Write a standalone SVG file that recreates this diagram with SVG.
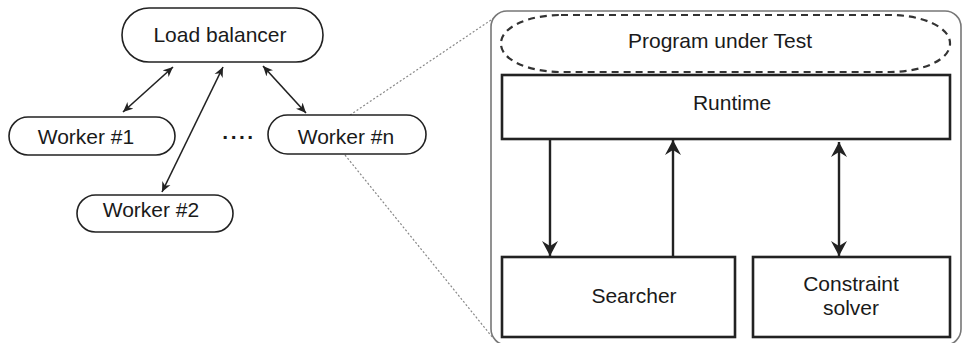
<svg xmlns="http://www.w3.org/2000/svg" width="962" height="343" viewBox="0 0 962 343">
<defs>
<style>
text{font-family:"Liberation Sans",Arial,sans-serif;font-size:21px;fill:#1a1a1a;text-anchor:middle}
.pill{fill:#fff;stroke:#222;stroke-width:1.6}
.box{fill:#fff;stroke:#222;stroke-width:2.6}
.thin{stroke:#222;stroke-width:1.6;fill:none}
.thick{stroke:#222;stroke-width:2.4;fill:none}
.dot{stroke:#888;stroke-width:1.2;stroke-dasharray:2 2;fill:none}
</style>
<marker id="sa" viewBox="-10 -5 10 10" refX="0" refY="0" markerWidth="10" markerHeight="10" markerUnits="userSpaceOnUse" orient="auto-start-reverse">
<path d="M0,0 L-10,-4.5 L-7,0 L-10,4.5 Z" fill="#222"/>
</marker>
<marker id="la" viewBox="-16 -8 16 16" refX="0" refY="0" markerWidth="16" markerHeight="16" markerUnits="userSpaceOnUse" orient="auto-start-reverse">
<path d="M0,0 L-15,-8 L-10,0 L-15,8 Z" fill="#222"/>
</marker>
</defs>

<g id="zoom-lines">
<line class="dot" x1="350" y1="115" x2="494" y2="18"/>
<line class="dot" x1="345" y1="155" x2="493" y2="338"/>
</g>

<g id="worker-detail">
<rect x="491" y="11" width="470" height="334" rx="16" ry="16" fill="#fff" stroke="#777" stroke-width="1.6"/>
</g>

<g id="load-balancer">
<rect class="pill" x="122" y="8" width="201" height="54" rx="27" ry="27"/>
<text x="220" y="42">Load balancer</text>
</g>
<g id="worker-1">
<rect class="pill" x="9" y="117" width="166" height="38" rx="19" ry="19"/>
<text x="86" y="144">Worker #1</text>
</g>
<g id="worker-2">
<rect class="pill" x="77" y="195" width="156" height="37" rx="18.5" ry="18.5"/>
<text x="151" y="217">Worker #2</text>
</g>
<g id="worker-n">
<rect class="pill" x="268" y="115" width="158" height="39" rx="19.5" ry="19.5"/>
<text x="346" y="144">Worker #n</text>
</g>
<g id="ellipsis">
<text x="239" y="139" style="font-weight:bold;letter-spacing:2.5px">....</text>
</g>

<g id="program-under-test">
<rect x="501" y="15" width="449" height="57" rx="60" ry="28" fill="none" stroke="#333" stroke-width="2.2" stroke-dasharray="7 5"/>
<text x="720" y="48">Program under Test</text>
</g>
<g id="runtime">
<rect class="box" x="502" y="75" width="448" height="64"/>
<text x="732" y="110">Runtime</text>
</g>
<g id="searcher">
<rect class="box" x="502" y="257" width="233" height="80"/>
<text x="634" y="303">Searcher</text>
</g>
<g id="constraint-solver">
<rect class="box" x="753" y="257" width="197" height="80"/>
<text x="851" y="291">Constraint</text>
<text x="851" y="315">solver</text>
</g>

<g id="connectors">
<line class="thin" x1="173" y1="67" x2="123" y2="112" marker-start="url(#sa)" marker-end="url(#sa)"/>
<line class="thin" x1="223" y1="67" x2="162" y2="192" marker-start="url(#sa)" marker-end="url(#sa)"/>
<line class="thin" x1="263" y1="66" x2="306" y2="113" marker-start="url(#sa)" marker-end="url(#sa)"/>
<line class="thick" x1="550" y1="139" x2="550" y2="256" marker-end="url(#la)"/>
<line class="thick" x1="673" y1="257" x2="673" y2="140" marker-end="url(#la)"/>
<line class="thick" x1="839" y1="142" x2="839" y2="256" marker-start="url(#la)" marker-end="url(#la)"/>
</g>
</svg>
